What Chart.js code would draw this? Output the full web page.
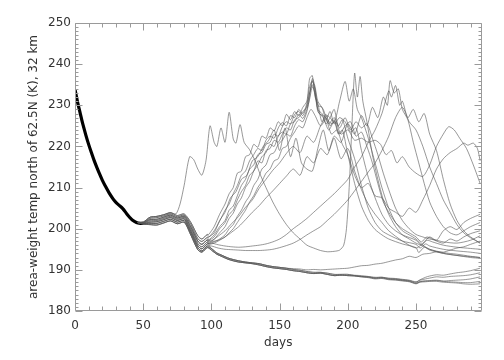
<!DOCTYPE html>
<html><head><meta charset="utf-8">
<script src="https://cdn.jsdelivr.net/npm/chart.js@4/dist/chart.umd.min.js"></script>
<style>html,body{margin:0;padding:0;background:#fff}#wrap{width:504px;height:360px}</style>
</head><body><div id="wrap"><canvas id="c" width="504" height="360"></canvas></div>
<script>
// ---- axis settings / tick labels ----
const xTickValues = [0, 50, 100, 150, 200, 250];
const yTickValues = [180, 190, 200, 210, 220, 230, 240, 250];
const xMax = 298;
const xLabel = 'days';
const yLabel = 'area-weight temp north of 62.5N (K), 32 km';

// ---- common spin-up trunk (days 0-50) ----
const trunkDays = [0,1,2,3,4,5,6,8,10,12,14,16,18,20,22,25,28,30,32,35,38,40,42,45,48,50];
const trunkTemp = [233.8,232.2,230.6,229.2,227.8,226.4,225.1,222.7,220.5,218.5,216.6,214.9,213.3,211.8,210.5,208.7,207.2,206.4,205.8,204.9,203.6,202.8,202.1,201.5,201.3,201.3];

// ---- ensemble band (days 46-97), several variants ----
const bandDays = [46,50,55,60,65,70,75,80,85,90,93,97];
const bandV1 = [201.5,201.6,202.8,203.0,203.4,203.9,203.2,203.6,201.5,198.3,197.5,198.6];
const bandV2 = [201.5,201.5,202.5,202.7,203.1,203.6,202.9,203.3,201.0,197.6,196.9,197.9];
const bandV3 = [201.5,201.4,202.2,202.3,202.8,203.3,202.6,203.0,200.4,197.0,196.2,197.3];
const bandV4 = [201.5,201.3,201.9,202.0,202.5,203.0,202.3,202.7,199.9,196.4,195.6,196.8];
const bandV5 = [201.5,201.2,201.6,201.7,202.2,202.7,202.0,202.4,199.4,195.9,195.1,196.3];
const bandV6 = [201.5,201.2,201.3,201.3,201.8,202.3,201.6,202.0,198.9,195.4,194.6,195.8];
const bandV7 = [201.5,201.1,201.0,200.9,201.4,201.9,201.2,201.6,198.4,194.9,194.3,195.4];

// ---- cold (undisturbed) path after day 100 ----
const lowerDays = [100,104,108,112,116,120,125,130,135,140,145,150,155,160,165,170,175,180,185,190,195,200];
const lowerA = [194.8,193.8,193.2,192.6,192.2,191.9,191.7,191.5,191.2,190.8,190.5,190.3,190.1,189.8,189.6,189.3,189.1,189.2,188.9,188.6,188.7,188.6];
const lowerB = [195.2,194.1,193.5,192.9,192.5,192.2,191.9,191.7,191.5,191.1,190.8,190.6,190.4,190.1,189.9,189.6,189.4,189.4,189.2,188.9,188.9,188.9];

// ---- member tails [day, K] ----
const tailL1 = [[205,188.6],[210,188.4],[215,188.3],[220,188.1],[225,188.2],[230,187.9],[235,187.8],[240,187.6],[245,187.4],[250,187.0],[253,187.6],[257,188.2],[260,188.5],[265,188.8],[270,188.7],[275,189.0],[280,189.3],[285,189.5],[290,189.8],[297,190.4]];
const tailL2 = [[205,188.7],[210,188.6],[215,188.4],[220,188.2],[225,188.2],[230,188.0],[235,187.9],[240,187.7],[245,187.5],[250,187.1],[253,187.5],[257,187.8],[260,188.0],[265,188.3],[270,188.2],[275,188.4],[280,188.5],[285,188.6],[290,188.8],[297,189.3]];
const tailL3 = [[205,188.5],[210,188.3],[215,188.2],[220,187.9],[225,188.0],[230,187.7],[235,187.6],[240,187.4],[245,187.2],[250,186.7],[253,187.1],[257,187.3],[260,187.4],[265,187.5],[270,187.3],[275,187.4],[280,187.5],[285,187.6],[290,187.8],[297,188.3]];
const tailL4 = [[205,188.6],[210,188.4],[215,188.3],[220,188.0],[225,188.1],[230,187.8],[235,187.7],[240,187.5],[245,187.3],[250,186.8],[253,187.2],[257,187.3],[260,187.3],[265,187.4],[270,187.2],[275,187.1],[280,187.0],[285,186.9],[290,186.9],[297,187.2]];
const tailL5 = [[205,188.5],[210,188.3],[215,188.1],[220,187.8],[225,187.9],[230,187.6],[235,187.5],[240,187.3],[245,187.1],[250,186.6],[253,187.0],[257,187.1],[260,187.2],[265,187.2],[270,187.0],[275,186.9],[280,186.8],[285,186.6],[290,186.5],[297,186.6]];
const tailS = [[160,190.3],[165,190.2],[170,190.0],[175,190.1],[180,190.0],[185,190.1],[190,190.2],[195,190.3],[200,190.4],[205,190.7],[210,191.0],[215,191.1],[220,191.4],[225,191.6],[230,192.0],[235,192.4],[240,192.7],[245,193.3],[250,193.0],[255,193.8],[260,194.0],[265,194.4],[270,194.3],[275,194.8],[280,195.3],[285,195.6],[290,196.2],[297,197.0]];

const tailA = [[74,203.6],[77,206],[80,210.5],[84,217.5],[87,216.8],[90,214.5],[93,213],[96,216.5],[99,225],[102,221],[104,220],[107,224.5],[110,221],[113,228.3],[116,221.8],[118,220.8],[121,225.3],[124,221],[128,219.2],[132,216.5],[136,213],[140,210],[145,206.5],[150,203.5],[155,201],[160,199],[165,197.5],[170,196],[175,195.3],[180,194.7],[185,194.4],[190,194.5],[194,194.8],[197,196],[199,200],[201,210],[203,225],[205,237.8],[207,232],[209,237],[211,231],[214,226],[218,218],[222,212],[226,207],[230,203.5],[235,200.5],[240,198.5],[245,197.5],[250,196.5],[255,195.8],[260,195],[270,194.2],[280,193.8],[290,193.3],[297,193]];
const tailB1 = [[98,198.6],[102,200.5],[106,203.5],[110,206],[113,208.5],[116,210],[119,213.5],[122,214],[125,217.5],[128,218],[131,220.5],[134,219.8],[137,222.5],[140,222],[143,224.5],[146,223.8],[149,226],[152,225],[155,227.8],[158,226.5],[161,228.5],[164,227.5],[167,229.5],[170,231],[172,236.5],[174,237.2],[176,232],[178,230.5],[181,226],[184,227.8],[187,225],[190,226.5],[193,223],[196,224],[200,218],[205,211],[210,205.5],[215,202],[220,199.8],[225,198.5],[230,197.5],[240,196.3],[250,195.4],[252,194.2],[256,195.5],[260,194.8],[270,194],[280,193.5],[290,193.2],[297,193]];
const tailB2 = [[98,197.9],[102,199.5],[106,201.8],[110,204.5],[113,206],[116,208.5],[119,210.5],[122,213],[125,214],[128,216.5],[131,218],[134,219.5],[137,219],[140,221.5],[143,222.5],[146,222],[149,224.5],[152,225.8],[155,225],[158,227.5],[161,227],[164,229],[167,228],[170,230.5],[172,234.5],[174,236],[176,233.5],[178,229],[181,228],[184,225.5],[187,227],[190,229],[193,225],[196,226.5],[200,222],[205,217],[210,210.5],[215,205],[220,201.5],[225,199.5],[230,198.5],[240,197],[250,196.2],[253,195.3],[257,196.3],[260,195.8],[270,195],[280,194.6],[290,194.3],[297,194]];
const tailB3 = [[98,197.3],[102,198.5],[106,200.5],[110,202],[113,204.5],[116,205.5],[119,208],[122,210.5],[125,212],[128,214.5],[131,215.5],[134,218],[137,218.5],[140,220.5],[143,221],[146,223],[149,222.5],[152,224.8],[155,226],[158,225.5],[161,227.8],[164,228.5],[167,227.5],[170,230],[172,233],[174,235.8],[176,234],[178,230],[181,229.5],[184,226.5],[187,228.5],[190,225.5],[194,227],[198,226],[202,223.5],[206,224.5],[210,219],[215,212.5],[220,207.5],[225,203.5],[230,201],[235,199.5],[240,198.5],[250,197.2],[254,196],[258,197.2],[262,196.8],[270,196],[280,195.5],[290,195.2],[297,195]];
const tailB4 = [[98,196.8],[102,197.5],[106,199],[110,200.5],[113,202.5],[116,203.8],[119,206],[122,207.5],[125,210],[128,211.5],[131,214],[134,215.5],[137,217.5],[140,218.5],[143,220.5],[146,220],[149,222.5],[152,223.5],[155,223],[158,225.5],[161,226],[164,227.8],[167,226.8],[170,229],[172,231.5],[174,234.5],[176,233],[178,228.5],[182,227],[186,224],[190,226],[194,223],[198,225],[202,226],[206,222.5],[210,223.5],[214,220],[218,216],[222,211],[226,206.5],[230,204],[235,201.5],[240,200],[245,199],[250,198],[254,196.8],[258,198],[265,197],[270,196.5],[275,197.5],[280,197],[285,198],[290,198.8],[297,199.5]];
const tailB5 = [[98,196.4],[102,196.8],[106,197.5],[110,198.5],[113,200],[116,201],[119,203],[122,204.5],[125,206.5],[128,208],[131,210.5],[134,212],[137,214.5],[140,215.5],[143,218],[146,218.5],[149,220.5],[152,221.5],[155,223],[158,222.5],[161,225],[164,226.5],[167,226],[170,228.5],[172,232],[174,236.5],[176,234.5],[178,231],[182,229],[186,225.5],[190,227],[194,224.5],[198,227],[202,224],[206,226],[210,224.5],[214,225.5],[218,222],[222,218],[226,213.5],[230,209.5],[235,205],[240,202],[245,200],[250,198.6],[255,198],[260,197.5],[265,197.2],[270,196.8],[280,196.5],[290,197.2],[297,198.3]];
const tailE1 = [[98,197.1],[102,198],[106,200],[110,201.5],[113,203.5],[116,204.5],[119,207],[122,209],[125,210.5],[128,213],[131,214],[134,216.5],[137,216],[140,219],[143,219.5],[146,221.5],[149,221],[152,223],[155,224.5],[158,224],[161,226.5],[164,227],[167,228.5],[170,229.5],[172,233],[174,235],[176,232.5],[179,228],[182,227.5],[185,226.5],[188,225.5],[191,226],[195,223],[200,224],[205,221.5],[210,222],[215,221],[220,221.5],[224,220.5],[228,218],[232,219],[236,216],[240,217.5],[245,215],[250,213.5],[255,212.7],[260,215.5],[265,220],[270,223],[274,224.8],[278,224],[282,222],[287,219.5],[292,215.5],[297,211]];
const tailE2 = [[98,196.2],[102,196.5],[106,197.2],[110,198],[113,199],[116,200],[119,201.5],[122,203],[125,204.5],[128,206.5],[131,208],[134,210],[137,211.5],[140,213.5],[143,214.5],[146,216.5],[149,217],[152,219.5],[155,220],[158,222],[161,223.5],[164,225],[167,224.5],[170,227],[173,229],[176,227.5],[180,225],[184,226.5],[188,223],[192,224],[196,220.5],[200,218],[205,213],[210,210],[215,211],[220,208],[225,207.5],[230,205],[235,204],[240,203],[245,205],[250,204],[255,207],[260,210.5],[265,214.5],[270,217],[275,218.5],[280,219.5],[285,220.8],[288,220.3],[292,220.8],[295,219.5],[297,216.5]];
const tailH = [[98,198],[102,199],[106,202],[110,204],[114,207.5],[118,209],[122,212],[126,213],[130,216.5],[134,217.5],[138,220],[142,221.5],[146,224],[150,219],[154,224.5],[158,217.5],[162,222],[166,216],[170,214.5],[174,214],[178,219.5],[182,224],[186,219],[190,222],[195,217],[200,219.5],[205,214],[210,209.5],[215,206],[220,203.5],[225,201.5],[230,199.5],[240,197],[250,195.3],[255,196.5],[260,198],[265,197.2],[270,199.5],[275,200.5],[280,199.8],[285,201.5],[290,202.5],[297,203.5]];
const tailC1 = [[100,197],[105,198.2],[110,199.5],[115,201.3],[120,203],[125,205.2],[130,207],[135,209.8],[140,212],[145,214.2],[150,216],[155,218.3],[160,220],[165,218.5],[170,222.5],[175,221],[180,225],[185,227.5],[190,226],[194,231],[198,235.8],[201,231],[204,234],[207,229],[210,227],[215,222],[220,216],[225,210],[230,205],[235,201.5],[240,199.5],[245,198.5],[250,197.5],[255,196],[260,195],[270,194],[280,193.5],[290,193],[297,192.8]];
const tailD3 = [[100,196.8],[105,197.2],[110,198],[115,199.2],[120,200.5],[125,202.2],[130,204],[135,205.6],[140,207.5],[145,209.2],[150,211],[155,212.8],[160,214.5],[165,213],[170,217.5],[175,216],[180,219.5],[185,218],[190,222.5],[195,221],[200,225.5],[205,223],[210,227.5],[214,225],[218,229.5],[222,227],[226,232],[229,230],[231,236],[234,233],[237,234],[240,229],[244,226.5],[248,221],[252,216],[256,211],[260,206.5],[265,203],[270,200.5],[275,199],[280,198.5],[285,199.5],[290,200.5],[297,201.5]];
const tailF1 = [[100,196.5],[105,196.1],[110,195.8],[115,195.6],[120,195.5],[125,195.6],[130,195.8],[135,196],[140,196.3],[145,196.8],[150,197.5],[155,198.6],[160,200],[165,201.2],[170,202.5],[175,204],[180,205.5],[185,207],[190,208.5],[195,210.2],[200,212],[205,215],[210,217.5],[215,221],[220,224],[225,228],[230,233.5],[232,232],[235,234.8],[238,230],[240,231],[244,227],[248,229],[252,226],[256,228],[260,223],[265,219],[270,212],[275,206],[280,202],[285,199.5],[290,198],[297,196.5]];
const tailF2 = [[100,195.8],[105,195.3],[110,195],[115,194.9],[120,194.8],[125,194.7],[130,194.7],[135,194.7],[140,194.8],[145,195],[150,195.4],[155,195.9],[160,196.5],[165,197.4],[170,198.5],[175,199.5],[180,200.5],[185,202],[190,203.5],[195,205.2],[200,207],[205,209.2],[210,211.5],[215,213.8],[220,216],[225,219],[230,222.5],[235,227],[240,229.5],[245,226],[250,224],[255,220],[260,215],[265,211],[270,207],[275,204],[280,201],[285,199],[290,197.8],[297,196.5]];

// ---- build datasets from the arrays ----
const pairs = (days, vals) => days.map((d, i) => ({x: d, y: vals[i]}));
const fromList = list => list.map(([x, y]) => ({x, y}));
const upTo = (pts, d) => pts.filter(p => p.x <= d);
const bandPts = {V1: pairs(bandDays, bandV1), V2: pairs(bandDays, bandV2), V3: pairs(bandDays, bandV3), V4: pairs(bandDays, bandV4), V5: pairs(bandDays, bandV5), V6: pairs(bandDays, bandV6), V7: pairs(bandDays, bandV7)};
const lowA = pairs(lowerDays, lowerA), lowB = pairs(lowerDays, lowerB);

const members = [
  upTo(bandPts.V1, 70).concat(fromList(tailA)),
  bandPts.V1.concat(fromList(tailB1)),
  bandPts.V2.concat(fromList(tailB2)),
  bandPts.V2.concat(fromList(tailB3)),
  bandPts.V3.concat(fromList(tailB4)),
  bandPts.V3.concat(fromList(tailB5)),
  bandPts.V4.concat(fromList(tailE1)),
  bandPts.V4.concat(fromList(tailE2)),
  bandPts.V1.concat(fromList(tailH)),
  bandPts.V3.concat(fromList(tailC1)),
  bandPts.V5.concat(fromList(tailD3)),
  bandPts.V5.concat(fromList(tailF1)),
  bandPts.V6.concat(fromList(tailF2)),
  bandPts.V6.concat(upTo(lowB, 155)).concat(fromList(tailS)),
  bandPts.V7.concat(lowA).concat(fromList(tailL1)),
  bandPts.V7.concat(lowB).concat(fromList(tailL2)),
  bandPts.V6.concat(lowA).concat(fromList(tailL3)),
  bandPts.V5.concat(lowB).concat(fromList(tailL4)),
  bandPts.V7.concat(lowA).concat(fromList(tailL5))
];

const datasets = members.map(m => ({
  data: m, borderColor: 'rgba(85,85,85,0.72)', borderWidth: 0.85, pointRadius: 0, tension: 0.25, fill: false
}));
datasets.push({data: pairs(trunkDays, trunkTemp), borderColor: '#000', borderWidth: 3.2, pointRadius: 0, tension: 0.3, fill: false});

const AXIS = '#9a9a9a';
const frameTicks = {
  id: 'frameTicks',
  afterDraw(chart) {
    const {ctx, chartArea: a, scales: {x, y}} = chart;
    ctx.save();
    ctx.strokeStyle = AXIS;
    ctx.lineWidth = 1;
    ctx.beginPath();
    const L = Math.round(a.left) + 0.5, R = Math.round(a.right) - 0.5, T = Math.round(a.top) + 0.5, B = Math.round(a.bottom) - 0.5;
    ctx.rect(L, T, R - L, B - T);
    for (let d = 0; d <= xMax; d += 10) {
      const px = Math.round(x.getPixelForValue(d)) + 0.5;
      const len = (d % 50 === 0) ? 7 : 4;
      ctx.moveTo(px, B); ctx.lineTo(px, B - len);
      ctx.moveTo(px, T); ctx.lineTo(px, T + len);
    }
    for (let t = 180; t <= 250; t += 1) {
      const py = Math.round(y.getPixelForValue(t)) + 0.5;
      const len = (t % 10 === 0) ? 7 : 3;
      ctx.moveTo(L, py); ctx.lineTo(L + len, py);
      ctx.moveTo(R, py); ctx.lineTo(R - len, py);
    }
    ctx.stroke();
    ctx.restore();
  }
};

const FONT = {family: 'DejaVu Sans', size: 12};
new Chart(document.getElementById('c'), {
  type: 'line',
  data: {datasets},
  options: {
    responsive: false, animation: false, events: [],
    layout: {padding: {left: 0, right: 22.5, top: 23, bottom: 0}},
    plugins: {legend: {display: false}, tooltip: {enabled: false}},
    scales: {
      x: {
        type: 'linear', min: 0, max: xMax,
        afterBuildTicks: s => { s.ticks = xTickValues.map(v => ({value: v})); },
        afterFit: s => { s.height = 49; },
        grid: {display: false, drawTicks: false}, border: {display: false},
        ticks: {color: '#333', font: FONT, padding: 8, maxRotation: 0},
        title: {display: true, text: xLabel, color: '#333', font: FONT, padding: {top: 0, bottom: 10}}
      },
      y: {
        type: 'linear', min: 180, max: 250,
        afterBuildTicks: s => { s.ticks = yTickValues.map(v => ({value: v})); },
        afterFit: s => { s.width = 75; },
        grid: {display: false, drawTicks: false}, border: {display: false},
        ticks: {color: '#333', font: FONT, padding: 4},
        title: {display: true, text: yLabel, color: '#333', font: FONT, padding: {top: 27, bottom: 0}}
      }
    }
  },
  plugins: [frameTicks]
});
</script>
</body></html>
